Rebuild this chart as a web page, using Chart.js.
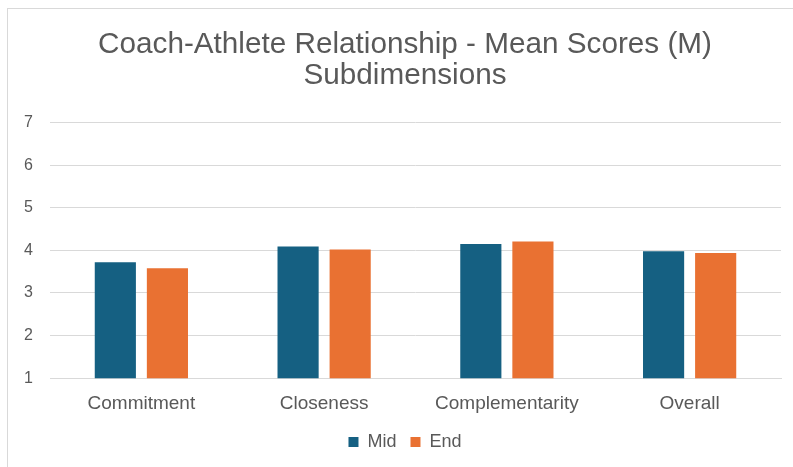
<!DOCTYPE html>
<html>
<head>
<meta charset="utf-8">
<script src="https://cdn.jsdelivr.net/npm/chart.js@4"></script>
<style>
  html, body { margin: 0; padding: 0; background: #fff; overflow: hidden; }
  #frame { position: absolute; left: 7px; top: 8px; width: 900px; height: 600px; border: 1px solid #d9d9d9; }
  #wrap { position: absolute; left: 0; top: 0; width: 793px; height: 467px; }
</style>
</head>
<body>
<div id="frame"></div>
<div id="wrap"><canvas id="barChart" width="793" height="467"></canvas></div>
<script>
var categories = ['Commitment', 'Closeness', 'Complementarity', 'Overall'];
var midScores = [3.72, 4.09, 4.15, 3.98];
var endScores = [3.58, 4.02, 4.21, 3.94];
var yTicks = [1, 2, 3, 4, 5, 6, 7];

var fontFamily = "'Liberation Sans', Arial, sans-serif";
var textColor = '#595959';

var ctx = document.getElementById('barChart').getContext('2d');
var myBarChart = new Chart(ctx, {
    type: 'bar',
    data: {
        labels: categories,
        datasets: [{
            label: 'Mid',
            data: midScores,
            backgroundColor: '#156082',
            categoryPercentage: 0.57,
            barPercentage: 0.79
        }, {
            label: 'End',
            data: endScores,
            backgroundColor: '#E97132',
            categoryPercentage: 0.57,
            barPercentage: 0.79
        }]
    },
    options: {
        responsive: false,
        animation: false,
        layout: {
            // wide left padding keeps the title centred on the whole frame
            padding: { left: 29, right: 12, top: 0, bottom: 6 }
        },
        plugins: {
            title: {
                display: true,
                text: ['Coach-Athlete Relationship - Mean Scores (M)', 'Subdimensions'],
                color: textColor,
                font: { family: fontFamily, size: 29.7, weight: 'normal', lineHeight: 1.02 },
                padding: { top: 30, bottom: 32 }
            },
            legend: {
                position: 'bottom',
                labels: {
                    color: textColor,
                    font: { family: fontFamily, size: 18 },
                    boxWidth: 10,
                    boxHeight: 10,
                    padding: 14
                }
            },
            tooltip: { enabled: false }
        },
        scales: {
            x: {
                afterFit: function (axis) {
                    // the legend padding already leaves room below the labels
                    axis.height -= 10;
                },
                grid: { display: false, drawTicks: false },
                border: { display: true, color: '#d9d9d9' },
                ticks: {
                    color: textColor,
                    font: { family: fontFamily, size: 19 },
                    padding: 14
                }
            },
            y: {
                min: yTicks[0],
                max: yTicks[yTicks.length - 1],
                afterBuildTicks: function (axis) {
                    axis.ticks = yTicks.map(function (v) { return { value: v }; });
                },
                afterFit: function (axis) {
                    axis.width = 21;
                },
                grid: { color: '#d9d9d9', drawTicks: false },
                border: { display: false },
                ticks: {
                    // mirrored labels are not clipped to the narrow axis box
                    mirror: true,
                    color: textColor,
                    font: { family: fontFamily, size: 16 },
                    padding: -26
                }
            }
        }
    }
});
</script>
</body>
</html>
